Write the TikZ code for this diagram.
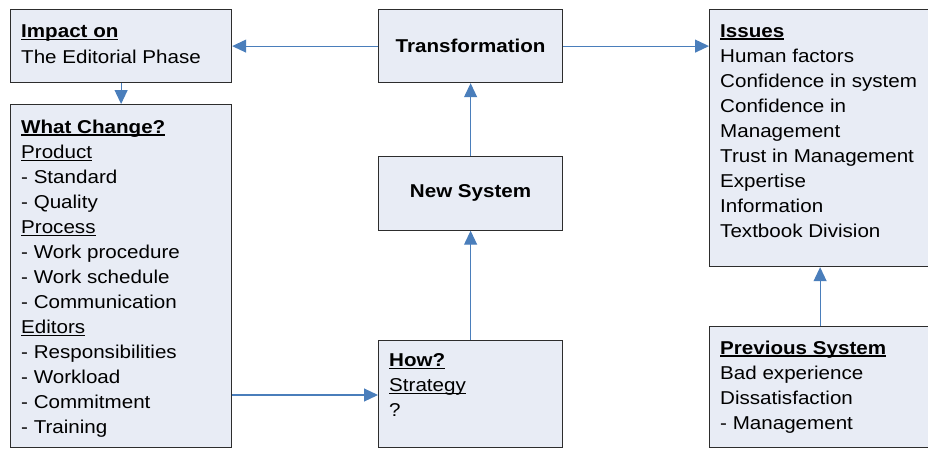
\documentclass[tikz,border=0pt]{standalone}
\usepackage{fontspec}
\setmainfont{Liberation Sans}[FakeStretch=1.107]
\usetikzlibrary{arrows.meta}

\definecolor{boxfill}{RGB}{232,236,245}
\definecolor{boxline}{RGB}{45,45,45}
\definecolor{arrowblue}{RGB}{74,126,187}

% underlined headings and words, rule set just under the baseline
\newcommand{\headline}[1]{\setbox0\hbox{\textbf{#1}}\rlap{\rule[-2.4pt]{\wd0}{1.3pt}}\box0}
\newcommand{\underword}[1]{\setbox0\hbox{#1}\rlap{\rule[-2.4pt]{\wd0}{1.1pt}}\box0}

\tikzset{
  panel/.style={draw=boxline, fill=boxfill, line width=1.2pt, inner sep=0pt,
                anchor=north west},
  txt/.style={anchor=north west, inner sep=0pt, align=left,
              font=\fontsize{18.6}{25}\selectfont},
  title/.style={inner sep=0pt, font=\fontsize{18.6}{25}\selectfont\bfseries},
  link/.style={draw=arrowblue, line width=1.1pt,
               -{Triangle[length=14pt,width=13pt]}}
}

\begin{document}
\begin{tikzpicture}[x=1pt,y=-1pt]
  \useasboundingbox (0,0) rectangle (928,450);

  % boxes
  \node[panel, minimum width=221pt, minimum height=73pt]  (impact) at (10,9)    {};
  \node[panel, minimum width=221pt, minimum height=343pt] (change) at (10,104)  {};
  \node[panel, minimum width=184pt, minimum height=73pt]  (trans)  at (378,9)   {};
  \node[panel, minimum width=184pt, minimum height=74pt]  (newsys) at (378,155.5) {};
  \node[panel, minimum width=184pt, minimum height=107pt] (how)    at (378,340) {};
  \node[panel, minimum width=221pt, minimum height=257pt] (issues) at (709,9)   {};
  \node[panel, minimum width=221pt, minimum height=121pt] (prev)   at (709,326) {};

  % box texts
  \node[title] (transT) at (trans.center)  {Transformation};
  \node[title] (newT)   at (newsys.center) {New System};

  \node[txt] (impactT) at ([xshift=11pt,yshift=-11pt]impact.north west)
    {\strut\headline{Impact on}\\[1pt]The Editorial Phase};

  \node[txt] (changeT) at ([xshift=11pt,yshift=-11.5pt]change.north west)
    {\strut\headline{What Change?}\\\underword{Product}\\- Standard\\- Quality\\
     \underword{Process}\\- Work procedure\\- Work schedule\\- Communication\\
     \underword{Editors}\\- Responsibilities\\- Workload\\- Commitment\\- Training};

  \node[txt] (howT) at ([xshift=11pt,yshift=-9.2pt]how.north west)
    {\strut\headline{How?}\\\underword{Strategy}\\?};

  \node[txt] (issuesT) at ([xshift=11pt,yshift=-10.5pt]issues.north west)
    {\strut\headline{Issues}\\Human factors\\Confidence in system\\Confidence in\\
     Management\\Trust in Management\\Expertise\\Information\\Textbook Division};

  \node[txt] (prevT) at ([xshift=11pt,yshift=-10.5pt]prev.north west)
    {\strut\headline{Previous System}\\Bad experience\\Dissatisfaction\\- Management};

  % connectors
  \coordinate (lowrow) at (0,395);
  \draw[link] (trans.west) -- (impact.east);
  \draw[link] (trans.east) -- (issues.west |- trans.east);
  \draw[link] (impact.south) -- (change.north);
  \draw[link] (newsys.north) -- (trans.south);
  \draw[link] (how.north) -- (newsys.south);
  \draw[link] (change.east |- lowrow) -- (how.west |- lowrow);
  \draw[link] (prev.north) -- (issues.south);
\end{tikzpicture}
\end{document}
